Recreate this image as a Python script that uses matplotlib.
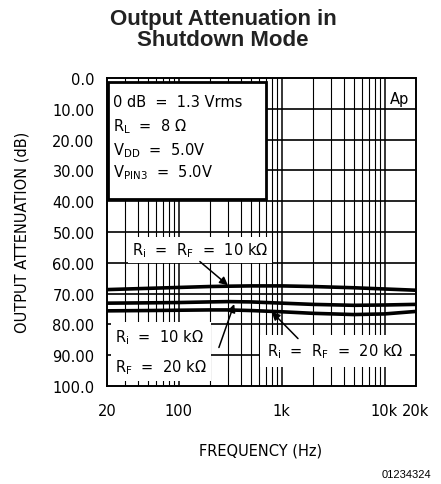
import matplotlib
matplotlib.use('Agg')
import matplotlib.pyplot as plt
from matplotlib.patches import Rectangle
from matplotlib.ticker import FixedLocator, NullFormatter
import numpy as np

# 周波数 (Hz) と減衰量 (dB)
freq = [20, 50, 100, 200, 300, 500, 1000, 2000, 5000, 10000, 20000]
atten_10k_10k = [68.7, 68.3, 68.0, 67.7, 67.6, 67.5, 67.5, 67.7, 68.1, 68.5, 68.9]
atten_10k_20k = [73.1, 73.0, 72.9, 72.7, 72.6, 72.7, 73.1, 73.5, 73.8, 73.7, 73.5]
atten_20k_20k = [75.6, 75.5, 75.4, 75.3, 75.3, 75.5, 75.9, 76.4, 76.8, 76.6, 75.8]

x_ticks = [20, 100, 1000, 10000, 20000]
x_tick_labels = ['20', '100', '1k', '10k', '20k']
y_ticks = [0, 10, 20, 30, 40, 50, 60, 70, 80, 90, 100]
y_tick_labels = ['0.0', '10.00', '20.00', '30.00', '40.00', '50.00',
                 '60.00', '70.00', '80.00', '90.00', '100.0']

cond_lines = ['0 dB  =  1.3 Vrms',
              'R$_\\mathregular{L}$  =  8 Ω',
              'V$_\\mathregular{DD}$  =  5.0V',
              'V$_\\mathregular{PIN3}$  =  5.0V']

plt.rcParams['font.family'] = ['DejaVu Sans']
FS = 10.5

W, H = 441, 485
fig = plt.figure(figsize=(W / 100, H / 100), dpi=100)
ax = fig.add_axes([107 / W, 1 - 387 / H, 308.5 / W, 308 / H])

ax.set_xscale('log')
ax.set_xlim(20, 20000)
ax.set_ylim(100, 0)

# グリッド
minor = [m * 10 ** d for d in range(1, 5) for m in range(2, 10) if 20 < m * 10 ** d < 20000]
for f in minor:
    ax.axvline(f, color='black', lw=0.8, zorder=1)
for f in [100, 1000, 10000]:
    ax.axvline(f, color='black', lw=1.1, zorder=1)
for y in y_ticks[1:-1]:
    ax.axhline(y, color='black', lw=1.2, zorder=1)

ax.xaxis.set_major_locator(FixedLocator(x_ticks))
ax.set_xticklabels(x_tick_labels)
ax.xaxis.set_minor_formatter(NullFormatter())
ax.set_yticks(y_ticks)
ax.set_yticklabels(y_tick_labels)
ax.tick_params(which='both', length=0, labelsize=FS)
ax.tick_params(axis='y', pad=9)
ax.tick_params(axis='x', pad=12)
for s in ax.spines.values():
    s.set_linewidth(1.4)

for vals in [atten_10k_10k, atten_10k_20k, atten_20k_20k]:
    ax.plot(freq, vals, color='black', lw=2.6, zorder=3)

# 条件ボックス
ax.add_patch(Rectangle((0.004, 0.607), 0.511, 0.379, transform=ax.transAxes,
                       fc='white', ec='black', lw=2, zorder=4))
for txt, yb in zip(cond_lines, [9.1, 17.0, 24.7, 31.8]):
    ax.text(22.9, yb, txt, fontsize=FS, va='baseline', ha='left', zorder=5)
ax.text(17500, 6.8, 'Ap', fontsize=FS, ha='right', va='center', zorder=5)

arrow = dict(arrowstyle='-|>', color='black', lw=1.1, mutation_scale=12)
white = dict(boxstyle='square,pad=0.25', fc='white', ec='none')

ax.text(160, 55.8, 'R$_\\mathregular{i}$  =  R$_\\mathregular{F}$  =  10 kΩ', fontsize=FS,
        ha='center', va='center', zorder=4, bbox=white)
ax.annotate('', xy=(300, 67.3), xytext=(160, 59.6), zorder=5,
            arrowprops=dict(arrow, shrinkA=0, shrinkB=0))
ax.annotate('', xy=(345, 73.4), xytext=(245, 87.5), zorder=5,
            arrowprops=dict(arrow, shrinkA=0, shrinkB=0))
ax.text(24.0, 88.8, 'R$_\\mathregular{i}$  =  10 kΩ\nR$_\\mathregular{F}$  =  20 kΩ',
        fontsize=FS, ha='left', va='center', linespacing=1.85, zorder=4,
        bbox=dict(boxstyle='square,pad=0.3', fc='white', ec='none'))
ax.text(3300, 88.6, 'R$_\\mathregular{i}$  =  R$_\\mathregular{F}$  =  20 kΩ', fontsize=FS,
        ha='center', va='center', zorder=4,
        bbox=dict(boxstyle='square,pad=0.45', fc='white', ec='none'))
ax.annotate('', xy=(800, 75.9), xytext=(1440, 84.6), zorder=5,
            arrowprops=dict(arrow, shrinkA=0, shrinkB=0))

fig.text(223 / W, 1 - 30 / H, 'Output Attenuation in\nShutdown Mode', fontsize=16,
         fontweight='bold', family='Liberation Sans', ha='center', va='center',
         linespacing=1.05, color='#222222')
fig.text(22 / W, 1 - 232 / H, 'OUTPUT ATTENUATION (dB)', rotation=90, fontsize=FS,
         ha='center', va='center')
fig.text(261 / W, 1 - 451 / H, 'FREQUENCY (Hz)', fontsize=FS, ha='center', va='center')
fig.text(431 / W, 1 - 475 / H, '01234324', fontsize=8, family='Liberation Sans',
         ha='right', va='center')

fig.savefig('out.png', dpi=100)
